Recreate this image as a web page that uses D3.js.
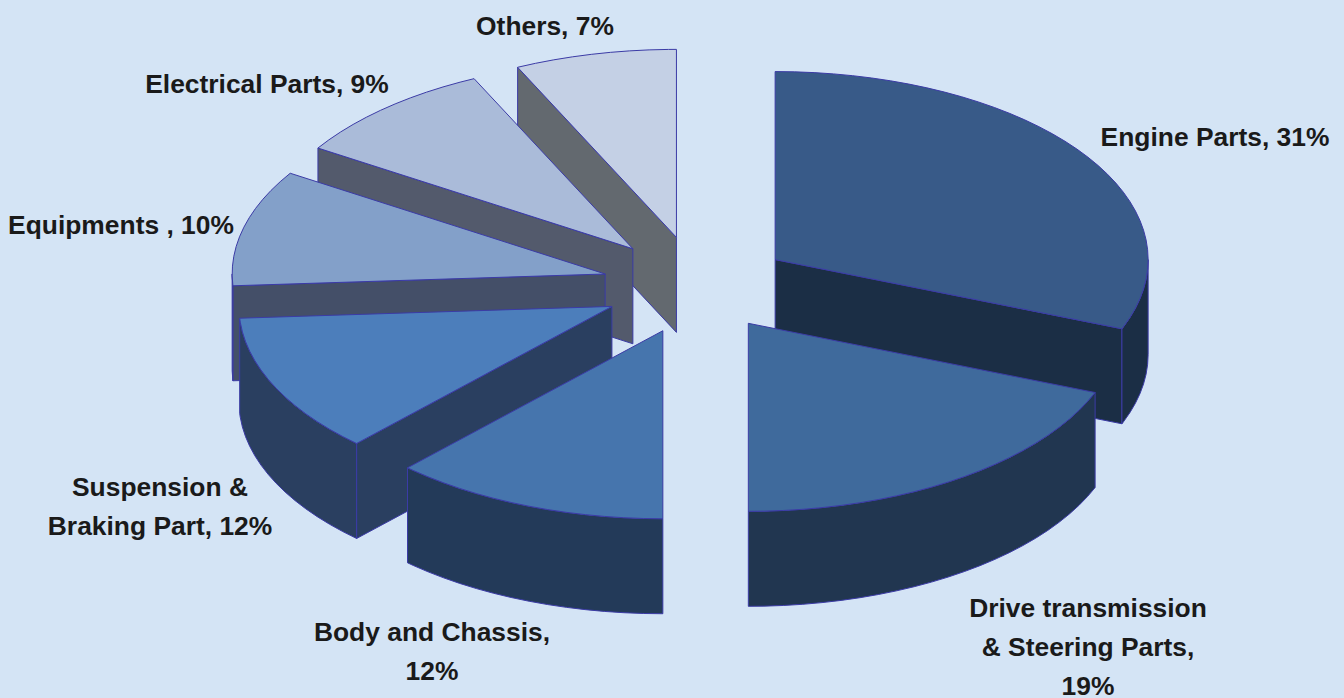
<!DOCTYPE html>
<html>
<head>
<meta charset="utf-8">
<script src="https://cdnjs.cloudflare.com/ajax/libs/d3/7.8.5/d3.min.js"></script>
<style>
html,body{margin:0;padding:0;background:#d4e4f5;}
svg{display:block;}
text{font-family:"Liberation Sans",Arial,sans-serif;font-weight:700;font-size:26.4px;fill:#1a1a1a;}
</style>
</head>
<body>
<svg id="chart" width="1344" height="698"></svg>
<script>
// Data
const categories = ["Engine Parts","Drive transmission & Steering Parts","Body and Chassis","Suspension & Braking Part","Equipments ","Electrical Parts","Others"];
const values = [31,19,12,12,10,9,7];
const labelLines = [
  ["Engine Parts, 31%"],
  ["Drive transmission","& Steering Parts,","19%"],
  ["Body and Chassis,","12%"],
  ["Suspension &","Braking Part, 12%"],
  ["Equipments , 10%"],
  ["Electrical Parts, 9%"],
  ["Others, 7%"]
];
// Styling
const topColors = ["#385a88","#3f6a9c","#4675ad","#4c7ebb","#83a0c9","#aabbd9","#c4d0e5"];
const wallColors = ["#1b2e45","#213650","#233a59","#2a3f60","#444f68","#535a6c","#63696f"];
const explode = [0.25,0.24,0.256,0.255,0.257,0.264,0.265];
const drawOrder = [6,5,4,3,2,0,1];
const labelAnchors = [[1215,146],[1088,617],[432,641],[160,496],[121,234],[267,93],[545,35]];
const lineGap = 39;
const W = 1344, H = 698;
const cx = 698, cy = 286, rx = 373, ry = 188, depth = 95;
const edge = "#3b3ba6";

const svg = d3.select("#chart");
svg.append("rect").attr("width",W).attr("height",H).attr("fill","#d4e4f5");

const arcs = d3.pie().sort(null).value(d=>d).startAngle(0).endAngle(2*Math.PI)(values);
const sx = d3.scaleLinear().domain([-1,1]).range([cx-rx,cx+rx]);
const sy = d3.scaleLinear().domain([-1,1]).range([cy-ry,cy+ry]);
const line = d3.line().curve(d3.curveLinear);
const step = Math.PI/60;

function pt(a,k,r,dz){
  const m = (a.startAngle+a.endAngle)/2;
  const x = sx(k*Math.sin(m)+r.v*Math.sin(r.t));
  const y = sy(-k*Math.cos(m)-r.v*Math.cos(r.t));
  return [x,y+dz];
}
function arcAngles(t0,t1){
  const out = d3.range(t0,t1,step);
  out.push(t1);
  return out;
}

const slices = svg.selectAll("g.slice").data(drawOrder).join("g").attr("class","slice");
slices.each(function(i){
  const g = d3.select(this), a = arcs[i], k = explode[i];
  const apex = dz=>pt(a,k,{v:0,t:0},dz);
  const rim = (t,dz)=>pt(a,k,{v:1,t:t},dz);
  const wall = t=>[apex(0),rim(t,0),rim(t,depth),apex(depth)];
  const style = sel=>sel.attr("fill",wallColors[i]).attr("stroke",edge).attr("stroke-width",1).attr("stroke-linejoin","round");
  // only radial walls that face the viewer are drawn
  if(a.startAngle>Math.PI) style(g.append("path").attr("d",line(wall(a.startAngle))+"Z"));
  if(a.endAngle<Math.PI) style(g.append("path").attr("d",line(wall(a.endAngle))+"Z"));
  const r0 = Math.max(a.startAngle,Math.PI/2), r1 = Math.min(a.endAngle,3*Math.PI/2);
  if(r1>r0){
    const ts = arcAngles(r0,r1);
    const pts = ts.map(t=>rim(t,0)).concat(ts.slice().reverse().map(t=>rim(t,depth)));
    style(g.append("path").attr("d",line(pts)+"Z"));
  }
  const topPts = [apex(0)].concat(arcAngles(a.startAngle,a.endAngle).map(t=>rim(t,0)));
  g.append("path").attr("d",line(topPts)+"Z")
    .attr("fill",topColors[i]).attr("stroke",edge).attr("stroke-width",1).attr("stroke-linejoin","round");
});

const labels = svg.selectAll("text.lbl").data(labelLines).join("text").attr("class","lbl")
  .attr("text-anchor","middle")
  .attr("transform",(d,i)=>`translate(${labelAnchors[i][0]},${labelAnchors[i][1]})`);
labels.selectAll("tspan").data(d=>d).join("tspan")
  .attr("x",0).attr("y",(d,j)=>j*lineGap).text(d=>d);
</script>
</body>
</html>
